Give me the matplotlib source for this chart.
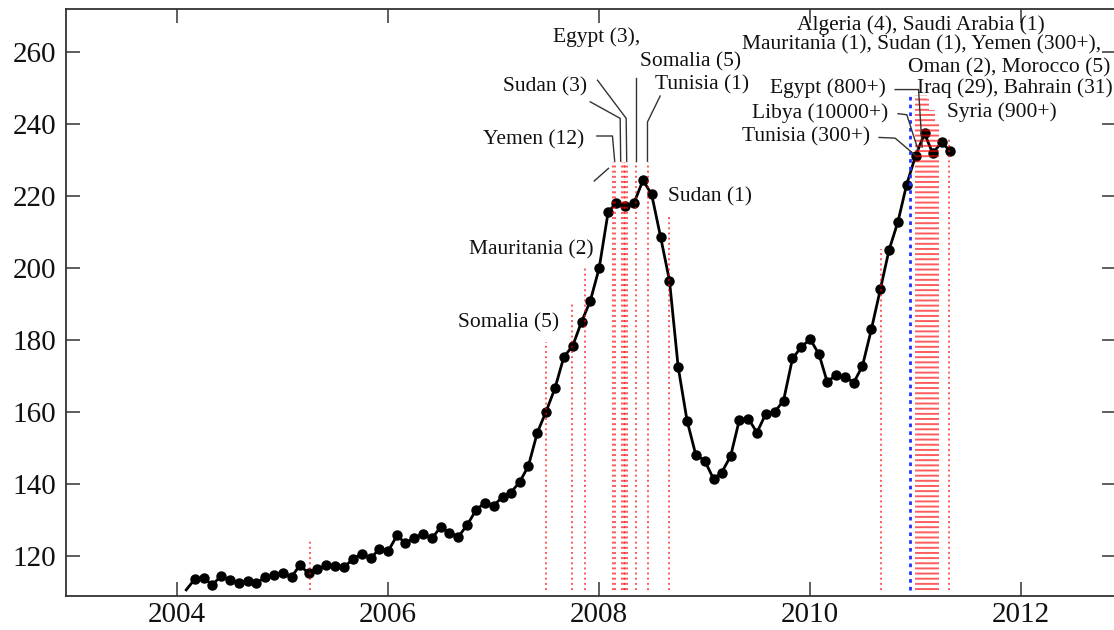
import numpy as np
import pandas as pd
import matplotlib
matplotlib.use("Agg")
import matplotlib.pyplot as plt

plt.rcParams['font.family'] = ['Liberation Serif', 'DejaVu Serif']

# ---------------- data ----------------
start_month = '2004-01'
fpi = [
    # 2004
    110.6, 113.5, 114.0, 112.0, 114.4, 113.3, 112.6, 113.1, 112.4, 114.2, 114.8, 115.2,
    # 2005
    114.3, 117.4, 115.2, 116.3, 117.4, 117.2, 117.0, 119.1, 120.7, 119.4, 121.9, 121.4,
    # 2006
    125.8, 123.5, 125.1, 126.0, 124.9, 128.0, 126.5, 125.4, 128.6, 132.8, 134.8, 134.0,
    # 2007
    136.5, 137.6, 140.6, 145.0, 154.3, 160.1, 166.6, 175.4, 178.3, 185.1, 190.8, 200.0,
    # 2008
    215.5, 218.2, 217.2, 218.1, 224.4, 220.5, 208.7, 196.5, 172.6, 157.6, 148.2, 146.5,
    # 2009
    141.4, 143.2, 147.8, 157.8, 158.2, 154.3, 159.6, 160.1, 163.2, 174.9, 178.0, 180.3,
    # 2010
    176.0, 168.4, 170.3, 169.8, 168.2, 172.8, 183.0, 194.1, 205.0, 212.9, 223.2, 231.2,
    # 2011
    237.4, 231.9, 234.9, 232.5,
]

riot_dates = [2005.261, 2007.493, 2007.747, 2007.861,
              2008.130, 2008.152, 2008.215, 2008.232, 2008.246, 2008.263,
              2008.351, 2008.460, 2008.666, 2010.676,
              2011.005, 2011.024, 2011.043, 2011.062, 2011.081, 2011.100, 2011.118,
              2011.137, 2011.156, 2011.175, 2011.194, 2011.213, 2011.318]
riot_tops = [124.7, 179.5, 190.2, 200.4,
             229.4, 229.4, 229.4, 229.4, 229.4, 229.4,
             229.4, 229.4, 214.4, 205.2,
             248.0, 248.0, 248.0, 248.0, 248.0, 248.0, 247.0,
             244.0, 244.0, 244.0, 240.0, 240.0, 236.0]
uprising_date = 2010.951
uprising_top = 248.0

labels = [
    ("Somalia (5)", 2006.664, 184.7),
    ("Mauritania (2)", 2006.768, 205.0),
    ("Yemen (12)", 2006.900, 235.6),
    ("Sudan (3)", 2007.087, 250.3),
    ("Egypt (3),", 2007.564, 264.2),
    ("Somalia (5)", 2008.389, 257.2),
    ("Tunisia (1)", 2008.531, 250.8),
    ("Sudan (1)", 2008.654, 219.7),
    ("Algeria (4), Saudi Arabia (1)", 2009.874, 267.5),
    ("Mauritania (1), Sudan (1), Yemen (300+),", 2009.353, 261.9),
    ("Oman (2), Morocco (5)", 2010.930, 255.6),
    ("Egypt (800+)", 2009.621, 250.0),
    ("Iraq (29), Bahrain (31)", 2011.011, 250.0),
    ("Libya (10000+)", 2009.445, 243.1),
    ("Syria (900+)", 2011.296, 243.3),
    ("Tunisia (300+)", 2009.353, 236.4),
]

leaders = [
    [(2007.978, 236.7), (2008.126, 236.7), (2008.147, 229.7)],
    [(2007.953, 224.2), (2008.088, 227.7)],
    [(2007.915, 246.2), (2008.199, 241.6), (2008.204, 229.7)],
    [(2007.984, 252.2), (2008.256, 241.6), (2008.261, 229.7)],
    [(2008.346, 252.8), (2008.346, 229.7)],
    [(2008.578, 247.8), (2008.458, 240.6), (2008.458, 229.7)],
    [(2010.806, 249.6), (2011.028, 249.6), (2011.062, 233.6)],
    [(2010.834, 242.9), (2010.917, 242.6), (2011.024, 232.8)],
    [(2010.654, 236.3), (2010.806, 236.1), (2010.995, 231.4)],
]

xticks = [2004, 2006, 2008, 2010, 2012]
yticks = [120, 140, 160, 180, 200, 220, 240, 260]

# ---------------- derived positions ----------------
months = pd.date_range(start_month, periods=len(fpi), freq='MS') + pd.offsets.MonthEnd(0)
x = np.array([d.year + d.dayofyear / (366.0 if d.is_leap_year else 365.0) for d in months])
y = np.array(fpi)

# ---------------- figure ----------------
fig = plt.figure(figsize=(11.14, 6.30), dpi=100)
ax = fig.add_axes([66 / 1114, 34 / 630, 1050 / 1114, 586.7 / 630])

ax.plot(x, y, color='black', lw=2.0, marker='o', markersize=6.5,
        markevery=list(range(1, len(x))), zorder=3)

ymin_lines = 110.5
ax.vlines(riot_dates, ymin_lines, riot_tops, colors=(1.0, 0.0, 0.0), alpha=0.65,
          linestyles=':', linewidth=1.4, zorder=4)
ax.vlines([uprising_date], ymin_lines, [uprising_top], colors=(0.1, 0.2, 1.0),
          linestyles=(0, (1.3, 1.5)), linewidth=2.0, zorder=5)

for txt, tx, ty in labels:
    ax.text(tx, ty, txt, ha='left', va='center', fontsize=15.5, color='#111111', zorder=6)

for pts in leaders:
    xs, ys = zip(*pts)
    ax.plot(xs, ys, color='#333333', lw=1.0, zorder=6)

ax.set_xlim(2002.945, 2012.900)
ax.set_ylim(108.9, 271.9)
ax.set_xticks(xticks)
ax.set_yticks(yticks)
ax.tick_params(direction='in', length=10, width=1.1, labelsize=21,
               top=True, right=True, colors='#333333', labelcolor='#111111')
ax.tick_params(axis='x', pad=4)
ax.tick_params(axis='y', pad=7)
for s in ax.spines.values():
    s.set_linewidth(1.3)
    s.set_color('#333333')

fig.savefig('out.png', dpi=100)
